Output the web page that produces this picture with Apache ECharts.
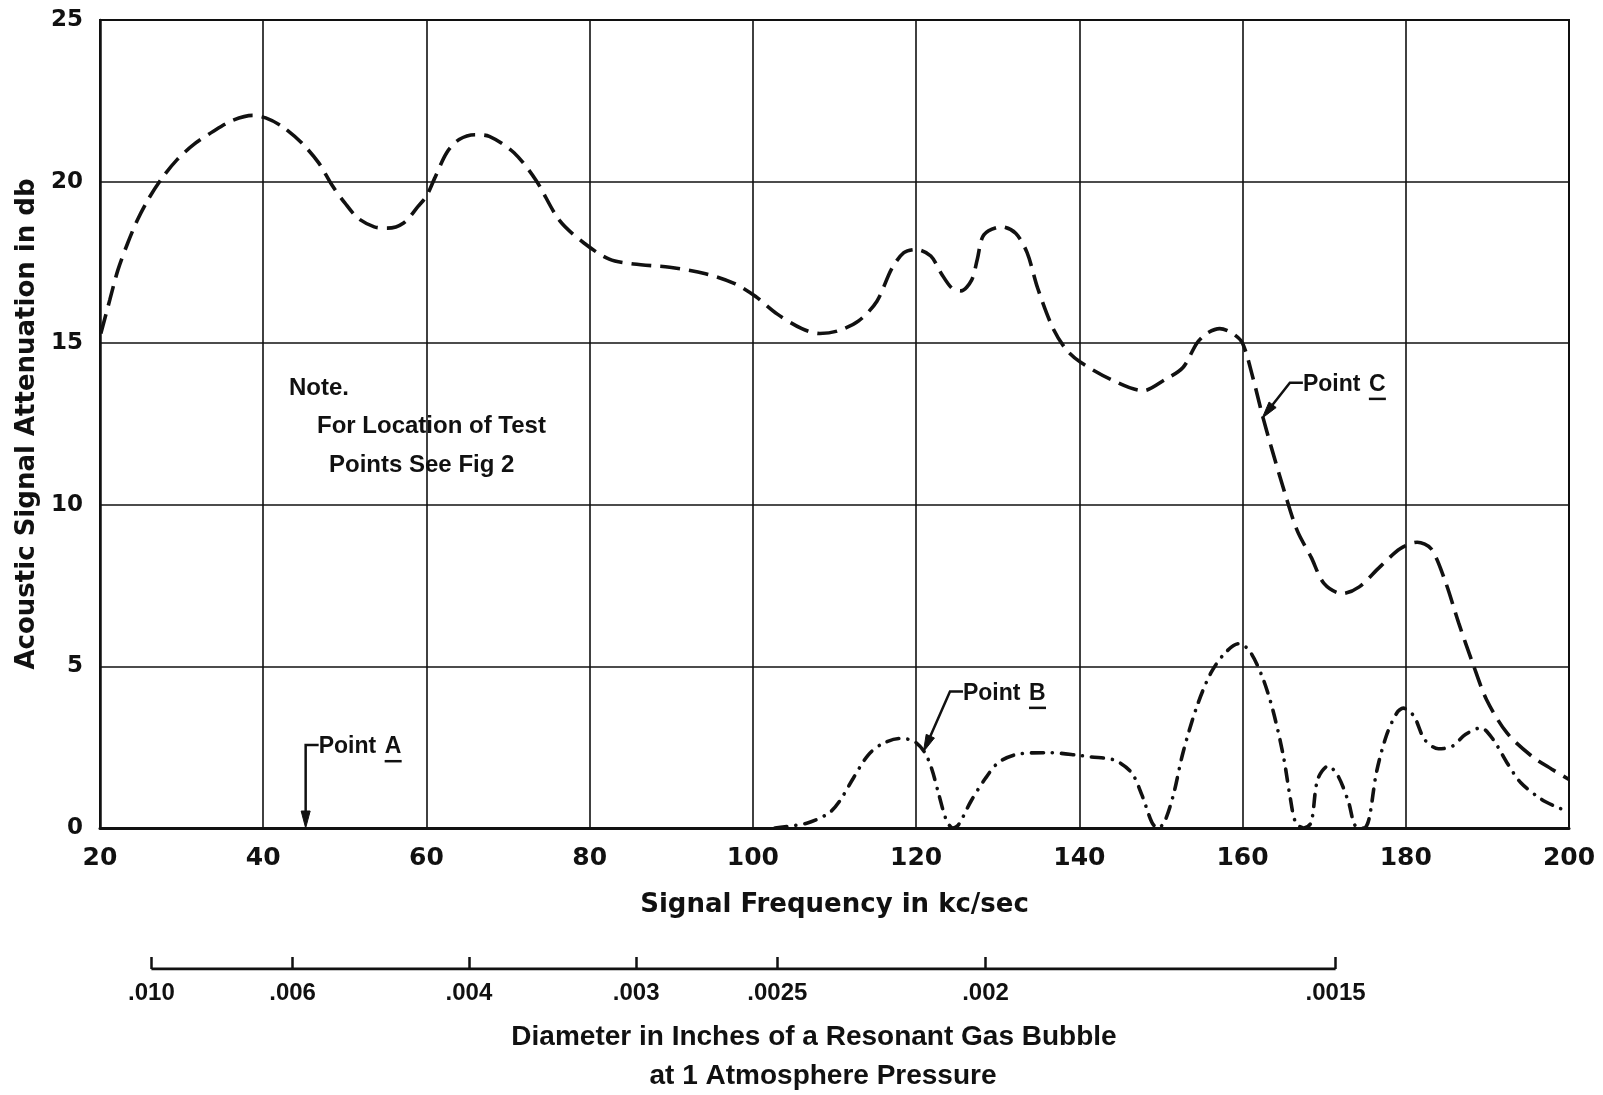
<!DOCTYPE html>
<html>
<head>
<meta charset="utf-8">
<script src="https://cdn.jsdelivr.net/npm/echarts@6/dist/echarts.min.js"></script>
<style>
html,body{margin:0;padding:0;background:#fff;}
#chart{width:1603px;height:1095px;}
</style>
</head>
<body>
<div id="chart"></div>
<script>
// ---------- data ----------
// Point C (dashed curve): frequency (kc/sec) and attenuation (db)
const pointCFreq = [20.1,21.2,22.2,23.4,24.6,26.0,27.6,29.45,31.5,33.9,36.3,38.7,40.3,42.3,44.7,46.8,48.4,50.0,51.6,53.6,55.2,57.2,59.0,60.0,61.0,62.5,64.0,66.0,67.7,70.7,73.4,76.3,79.3,82.4,85.4,89.8,94.2,97.7,100.3,103.0,106.0,108.2,110.4,113.0,115.2,117.0,118.5,120.0,121.8,123.1,124.4,125.5,126.8,127.5,128.3,130.5,132.2,133.6,134.9,136.7,138.4,140.2,144.0,147.8,150.4,152.7,154.4,155.6,157.2,158.8,160.0,161.3,162.4,163.5,165.2,166.7,168.4,170.0,172.2,174.3,176.8,179.3,181.4,183.1,184.8,186.5,188.2,189.9,192.4,195.4,197.9,200.0];
const pointCAtten = [15.3,16.34,17.27,18.1,18.82,19.49,20.11,20.68,21.15,21.56,21.9,22.05,21.97,21.71,21.2,20.58,19.9,19.34,18.87,18.6,18.56,18.72,19.24,19.55,20.1,20.9,21.3,21.45,21.4,20.9,20.05,18.8,18.1,17.6,17.45,17.35,17.15,16.85,16.45,15.9,15.45,15.3,15.38,15.7,16.3,17.3,17.8,17.9,17.7,17.15,16.7,16.62,16.95,17.6,18.35,18.6,18.4,17.8,16.7,15.5,14.8,14.4,13.86,13.53,13.86,14.25,15.0,15.3,15.45,15.3,15.0,13.9,12.8,11.8,10.35,9.2,8.38,7.56,7.25,7.46,8.07,8.64,8.84,8.64,7.66,6.33,5.1,3.97,2.94,2.23,1.82,1.5];
// Point B (dash-dot curve)
const pointBFreq = [102.7,106.6,109.3,110.6,112.3,114.1,115.8,118.0,119.7,121.0,121.9,122.8,123.7,124.5,125.2,126.7,128.5,130.2,132.8,136.3,139.9,141.4,144.3,146.4,147.7,148.9,149.6,150.4,151.5,152.7,154.4,156.1,157.8,159.5,160.8,162.4,163.7,165.0,165.8,166.5,167.5,168.4,169.2,170.5,171.7,173.0,173.8,174.9,175.5,176.4,177.6,178.9,179.7,181.0,182.3,184.0,185.7,187.3,189.2,190.7,192.4,194.1,196.6,198.3,200.0];
const pointBAtten = [0,0.15,0.46,0.82,1.54,2.25,2.6,2.77,2.69,2.36,1.84,1.02,0.25,0,0.1,0.82,1.54,2.05,2.3,2.33,2.25,2.2,2.1,1.71,1.0,0.17,0,0.17,1.0,2.33,3.76,4.79,5.4,5.7,5.5,4.69,3.66,2.23,1.0,0.17,0,0.17,1.5,1.92,1.61,0.79,0.07,0,0.28,1.71,2.84,3.56,3.71,3.46,2.74,2.45,2.53,2.89,3.1,2.74,2.02,1.4,0.89,0.67,0.5];
// Secondary scale: bubble diameter labels and the frequency each sits at
const diameterLabels = ['.010','.006','.004','.003','.0025','.002','.0015'];
const diameterFreq = [26.3,43.6,65.2,85.7,103.0,128.5,171.4];
// Annotation arrows: [freq, db] of arrow tip and of the bracket knee
const annotNames = ['A','B','C'];
const annotTip = [[45.2,0],[120.9,2.36],[162.4,12.68]];
const annotKnee = [[45.2,2.57],[124.15,4.22],[165.8,13.78]];
const noteLines = ['Note.','For Location of Test','Points See Fig 2'];

// ---------- chart ----------
const INK = '#111';
const DIG = "'DejaVu Sans', sans-serif";
const TXT = "'Liberation Sans', Arial, sans-serif";
const zip = (a,b)=>a.map((v,i)=>[v,b[i]]);

const chart = echarts.init(document.getElementById('chart'), null, {renderer:'canvas'});
chart.setOption({
  backgroundColor:'#fff',
  animation:false,
  grid:[
    {left:100, top:20, width:1469, height:808, show:true, borderColor:INK, borderWidth:2, backgroundColor:'rgba(0,0,0,0)'},
    {left:100, top:959, width:1469, height:10, show:false}
  ],
  xAxis:[
    {type:'value', gridIndex:0, min:20, max:200, interval:20,
     axisLine:{show:true, onZero:false, lineStyle:{color:INK, width:3}},
     axisTick:{show:false},
     splitLine:{show:true, lineStyle:{color:INK, width:1.6}},
     axisLabel:{color:INK, fontFamily:DIG, fontWeight:'bold', fontSize:25, margin:18},
     name:'Signal Frequency in kc/sec', nameLocation:'middle', nameGap:64,
     nameTextStyle:{color:INK, fontFamily:DIG, fontWeight:'bold', fontSize:26}},
    {type:'value', gridIndex:1, min:20, max:200,
     axisLine:{show:false},
     splitLine:{show:false},
     axisTick:{show:true, inside:true, length:12, customValues:diameterFreq, lineStyle:{color:INK, width:2.5}},
     axisLabel:{show:true, customValues:diameterFreq, color:INK, fontFamily:TXT, fontWeight:'bold', fontSize:24, margin:12,
       formatter:(v)=>{const i=diameterFreq.indexOf(v); return i>=0?diameterLabels[i]:'';}}}
  ],
  yAxis:[
    {type:'value', gridIndex:0, min:0, max:25, interval:5,
     axisLine:{show:true, onZero:false, lineStyle:{color:INK, width:2.5}},
     axisTick:{show:false},
     splitLine:{show:true, lineStyle:{color:INK, width:1.6}},
     axisLabel:{color:INK, fontFamily:DIG, fontWeight:'bold', fontSize:23, margin:17},
     name:'Acoustic Signal Attenuation in db', nameLocation:'middle', nameGap:46,
     nameTextStyle:{color:INK, fontFamily:DIG, fontWeight:'bold', fontSize:26}},
    {type:'value', gridIndex:1, min:0, max:1, show:false}
  ],
  series:[
    {name:'Point C', type:'line', xAxisIndex:0, yAxisIndex:0, data:zip(pointCFreq,pointCAtten),
     smooth:0.3, symbol:'none', z:5,
     lineStyle:{color:INK, width:3.6, type:[20,9]}},
    {name:'Point B', type:'line', xAxisIndex:0, yAxisIndex:0, data:zip(pointBFreq,pointBAtten),
     smooth:0.3, symbol:'none', z:5,
     lineStyle:{color:INK, width:3.6, type:[12,9,0.1,9], cap:'round'}},
    {name:'diameter scale', type:'line', xAxisIndex:1, yAxisIndex:1,
     data:[[diameterFreq[0],0],[diameterFreq[diameterFreq.length-1],0]],
     symbol:'none', silent:true, lineStyle:{color:INK, width:3}}
  ]
});

// ---------- annotations positioned from data coordinates ----------
const g = [];
const toPx = (p)=>chart.convertToPixel({gridIndex:0}, p);
annotNames.forEach((nm,i)=>{
  const tip = toPx(annotTip[i]);
  const knee = toPx(annotKnee[i]);
  let dx = tip[0]-knee[0], dy = tip[1]-knee[1];
  const len = Math.hypot(dx,dy); dx/=len; dy/=len;
  const L = 17, W = 4.5;
  const bx = tip[0]-dx*L, by = tip[1]-dy*L;
  const px = -dy, py = dx;
  g.push({type:'polyline', z:20, shape:{points:[[knee[0]+13,knee[1]],[knee[0],knee[1]],[bx,by]]},
    style:{stroke:INK, lineWidth:2.5, fill:null}});
  g.push({type:'polygon', z:20, shape:{points:[[tip[0],tip[1]],[bx+px*W,by+py*W],[bx-px*W,by-py*W]]},
    style:{fill:INK, stroke:INK, lineWidth:1}});
  g.push({type:'text', z:20, style:{text:'Point', x:knee[0]+13, y:knee[1]+2, fill:INK,
    fontFamily:TXT, fontWeight:'bold', fontSize:23, align:'left', verticalAlign:'middle'}});
  g.push({type:'text', z:20, style:{text:nm, x:knee[0]+79, y:knee[1]+2, fill:INK,
    fontFamily:TXT, fontWeight:'bold', fontSize:23, align:'left', verticalAlign:'middle'}});
  g.push({type:'rect', z:20, shape:{x:knee[0]+79, y:knee[1]+15, width:17, height:2.5}, style:{fill:INK}});
});
const noteX = [289,317,329], noteY = [388,426,465];
noteLines.forEach((t,i)=>{
  g.push({type:'text', z:20, style:{text:t, x:noteX[i], y:noteY[i], fill:INK,
    fontFamily:TXT, fontWeight:'bold', fontSize:24, align:'left', verticalAlign:'middle'}});
});
g.push({type:'text', z:20, style:{text:'Diameter in Inches of a Resonant Gas Bubble', x:814, y:1037, fill:INK,
  fontFamily:TXT, fontWeight:'bold', fontSize:28, align:'center', verticalAlign:'middle'}});
g.push({type:'text', z:20, style:{text:'at 1 Atmosphere Pressure', x:823, y:1076, fill:INK,
  fontFamily:TXT, fontWeight:'bold', fontSize:28, align:'center', verticalAlign:'middle'}});
chart.setOption({graphic:g});
</script>
</body>
</html>
